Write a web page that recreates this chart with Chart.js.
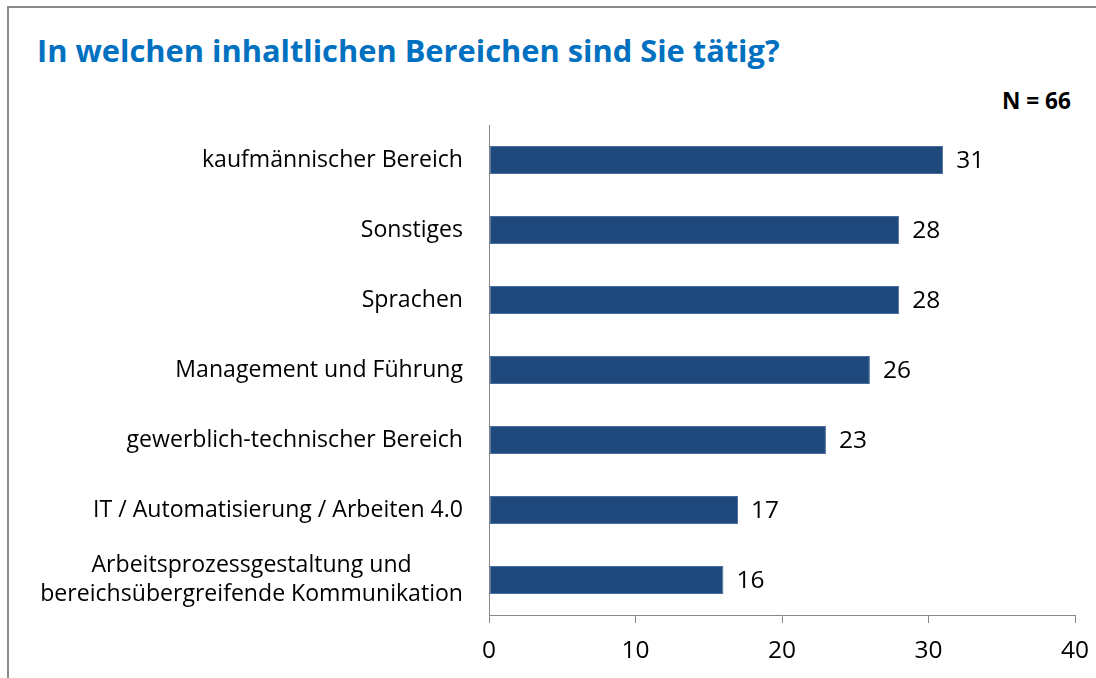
<!DOCTYPE html>
<html>
<head>
<meta charset="utf-8">
<script src="https://cdn.jsdelivr.net/npm/chart.js@4.4.1/dist/chart.umd.min.js"></script>
<style>
  body { margin: 0; background: #fff; width: 1096px; height: 678px; overflow: hidden; position: relative; }
  #frame { position: absolute; left: 7px; top: 6px; width: 1200px; height: 800px;
           border-top: 2px solid #8a8a8a; border-left: 2px solid #8a8a8a; }
  .txt { position: absolute; white-space: nowrap; line-height: 1; font-family: "Open Sans", sans-serif; }
  #title { left: 37px; color: #0070C0; font-weight: bold; }
  #nlabel { color: #000; font-weight: bold; }
  #chart { position: absolute; left: 0; top: 0; }
</style>
</head>
<body>
<div id="frame"></div>
<div id="title" class="txt">In welchen inhaltlichen Bereichen sind Sie tätig?</div>
<div id="nlabel" class="txt">N = 66</div>
<canvas id="chart" width="1096" height="678"></canvas>
<script>
// data
var categories = [
  'kaufmännischer Bereich',
  'Sonstiges',
  'Sprachen',
  'Management und Führung',
  'gewerblich-technischer Bereich',
  'IT / Automatisierung / Arbeiten 4.0',
  ['Arbeitsprozessgestaltung und', 'bereichsübergreifende Kommunikation']
];
var counts = [31, 28, 28, 26, 23, 17, 16];
var xTicks = [0, 10, 20, 30, 40];

var FAMILY = '"Open Sans", sans-serif';
var AXIS_GRAY = '#868686';
var BAR_BLUE = '#1F497D';

// pick a font size so a text spans the width it has in the picture
var mctx = document.createElement('canvas').getContext('2d');
function fitSize(text, width, weight) {
  mctx.font = (weight || 'normal') + ' 100px ' + FAMILY;
  return 100 * width / mctx.measureText(text).width;
}

var labelSize = fitSize('bereichsübergreifende Kommunikation', 423);
var digitSize = fitSize('40', 28);
var titleSize = fitSize('In welchen inhaltlichen Bereichen sind Sie tätig?', 743, 'bold');
var nSize = fitSize('N = 66', 69, 'bold');

// place html text by its baseline (Open Sans, line-height 1)
function placeBaseline(el, size, baseline) {
  el.style.fontSize = size + 'px';
  el.style.top = (baseline - 0.888 * size) + 'px';
}
var title = document.getElementById('title');
placeBaseline(title, titleSize, 62);
var nlabel = document.getElementById('nlabel');
placeBaseline(nlabel, nSize, 110);
nlabel.style.left = '1002px';

// category labels: right aligned block, lines centred on each other
var categoryLabels = {
  id: 'categoryLabels',
  afterDraw: function(chart) {
    var ctx = chart.ctx, y = chart.scales.y;
    var right = y.right - 26;
    ctx.save();
    ctx.font = labelSize + 'px ' + FAMILY;
    ctx.fillStyle = '#000';
    ctx.textAlign = 'center';
    ctx.textBaseline = 'middle';
    var lh = labelSize * 1.22;
    categories.forEach(function(c, i) {
      var lines = Array.isArray(c) ? c : [c];
      var widest = Math.max.apply(null, lines.map(function(l) { return ctx.measureText(l).width; }));
      var cy = y.getPixelForValue(i);
      var y0 = cy - (lines.length - 1) * lh / 2;
      lines.forEach(function(l, k) {
        ctx.fillText(l, right - widest / 2, y0 + k * lh);
      });
    });
    ctx.restore();
  }
};

// value next to each bar end
var valueLabels = {
  id: 'valueLabels',
  afterDatasetsDraw: function(chart) {
    var ctx = chart.ctx;
    var meta = chart.getDatasetMeta(0);
    ctx.save();
    ctx.font = digitSize + 'px ' + FAMILY;
    ctx.fillStyle = '#000';
    ctx.textAlign = 'left';
    ctx.textBaseline = 'middle';
    meta.data.forEach(function(bar, i) {
      ctx.fillText(String(counts[i]), bar.x + 13, bar.y + 1);
    });
    ctx.restore();
  }
};

new Chart(document.getElementById('chart'), {
  type: 'bar',
  data: {
    labels: categories,
    datasets: [{
      data: counts,
      backgroundColor: BAR_BLUE,
      borderColor: '#4A6E9C',
      borderWidth: 1,
      borderSkipped: false,
      categoryPercentage: 1,
      barPercentage: 0.4
    }]
  },
  options: {
    indexAxis: 'y',
    responsive: false,
    animation: false,
    events: [],
    layout: { padding: { top: 125, right: 21, left: 0, bottom: 0 } },
    plugins: { legend: { display: false }, tooltip: { enabled: false }, title: { display: false } },
    scales: {
      x: {
        min: xTicks[0],
        max: xTicks[xTicks.length - 1],
        afterBuildTicks: function(s) { s.ticks = xTicks.map(function(v) { return { value: v }; }); },
        ticks: { color: '#000', font: { family: FAMILY, size: digitSize }, padding: 13, maxRotation: 0 },
        grid: { drawOnChartArea: false, drawTicks: true, tickLength: 8, color: AXIS_GRAY, lineWidth: 1 },
        border: { color: AXIS_GRAY, width: 1 },
        afterFit: function(s) { s.height = 63; s.paddingLeft = 0; s.paddingRight = 0; }
      },
      y: {
        ticks: { display: false },
        grid: { display: false },
        border: { display: true, color: AXIS_GRAY, width: 1 },
        afterFit: function(s) { s.width = 489; s.paddingTop = 0; s.paddingBottom = 0; }
      }
    }
  },
  plugins: [categoryLabels, valueLabels]
});
</script>
</body>
</html>
